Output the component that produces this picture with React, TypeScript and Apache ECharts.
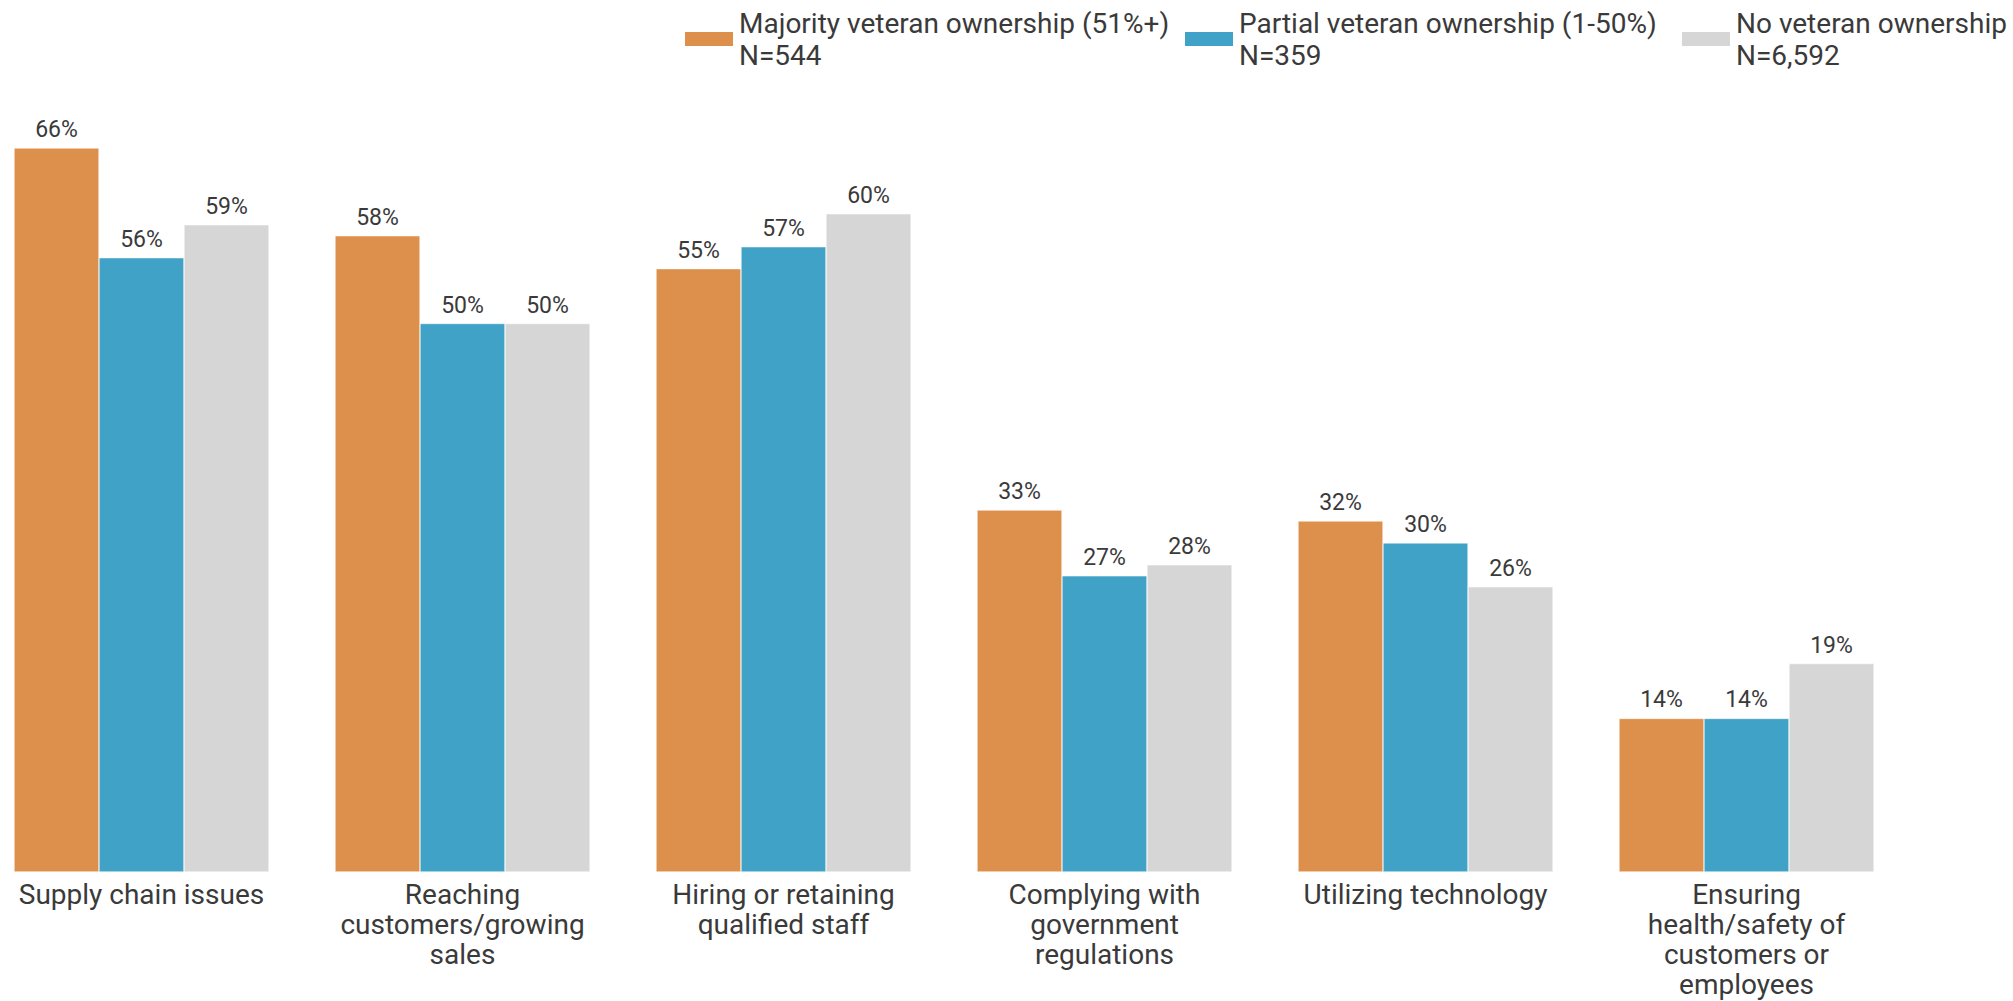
import React, { useEffect, useRef } from "react";
import * as echarts from "echarts";

const categories = [
  "Supply chain issues",
  "Reaching\ncustomers/growing\nsales",
  "Hiring or retaining\nqualified staff",
  "Complying with\ngovernment\nregulations",
  "Utilizing technology",
  "Ensuring\nhealth/safety of\ncustomers or\nemployees",
];
const seriesNames = [
  "Majority veteran ownership (51%+)",
  "Partial veteran ownership (1-50%)",
  "No veteran ownership",
];
const seriesN = ["N=544", "N=359", "N=6,592"];
const majority = [66, 58, 55, 33, 32, 14];
const partial = [56, 50, 57, 27, 30, 14];
const noVeteran = [59, 50, 60, 28, 26, 19];
const seriesValues = [majority, partial, noVeteran];
const colors = ["#DD904C", "#41A2C7", "#D6D6D6"];
const OFFSET = 19;
const legendLefts = [678 + OFFSET, 1178 + OFFSET, 1675 + OFFSET];

export default function App() {
  const ref = useRef<HTMLDivElement>(null);
  useEffect(() => {
    if (!ref.current) return;
    const chart = echarts.init(ref.current, null, { renderer: "svg" });
    const textColor = "#3a3a3a";
    chart.setOption({
      animation: false,
      backgroundColor: "#ffffff",
      textStyle: { fontFamily: "Roboto", color: textColor },
      legend: seriesNames.map((name, i) => ({
        data: [name],
        left: legendLefts[i],
        top: 2,
        icon: "rect",
        itemWidth: 50,
        itemHeight: 16,
        itemGap: 12,
        selectedMode: false,
        formatter: (n: string) => n + "\n" + seriesN[seriesNames.indexOf(n)],
        textStyle: {
          fontFamily: "Roboto",
          fontSize: 28,
          lineHeight: 32,
          color: textColor,
        },
      })),
      grid: { left: 0, width: 1926, top: 148, bottom: 129 },
      xAxis: {
        type: "category",
        data: categories,
        axisLine: { show: false },
        axisTick: { show: false },
        axisLabel: {
          interval: 0,
          margin: 7,
          fontFamily: "Roboto",
          fontSize: 28,
          lineHeight: 30,
          color: textColor,
          verticalAlign: "top",
        },
      },
      yAxis: {
        type: "value",
        min: 0,
        max: 66,
        show: false,
        splitLine: { show: false },
      },
      series: seriesNames.map((name, i) => ({
        name,
        type: "bar",
        data: seriesValues[i],
        barWidth: 85,
        barGap: "0%",
        itemStyle: { color: colors[i], borderColor: "#ffffff", borderWidth: 0.5 },
        label: {
          show: true,
          position: "top",
          distance: 7,
          formatter: "{c}%",
          fontFamily: "Roboto",
          fontSize: 23,
          color: textColor,
        },
      })),
    });
    return () => chart.dispose();
  }, []);
  return (
    <div
      ref={ref}
      style={{ position: "fixed", left: -OFFSET, top: 0, width: 2013 + OFFSET, height: 1001 }}
    />
  );
}
